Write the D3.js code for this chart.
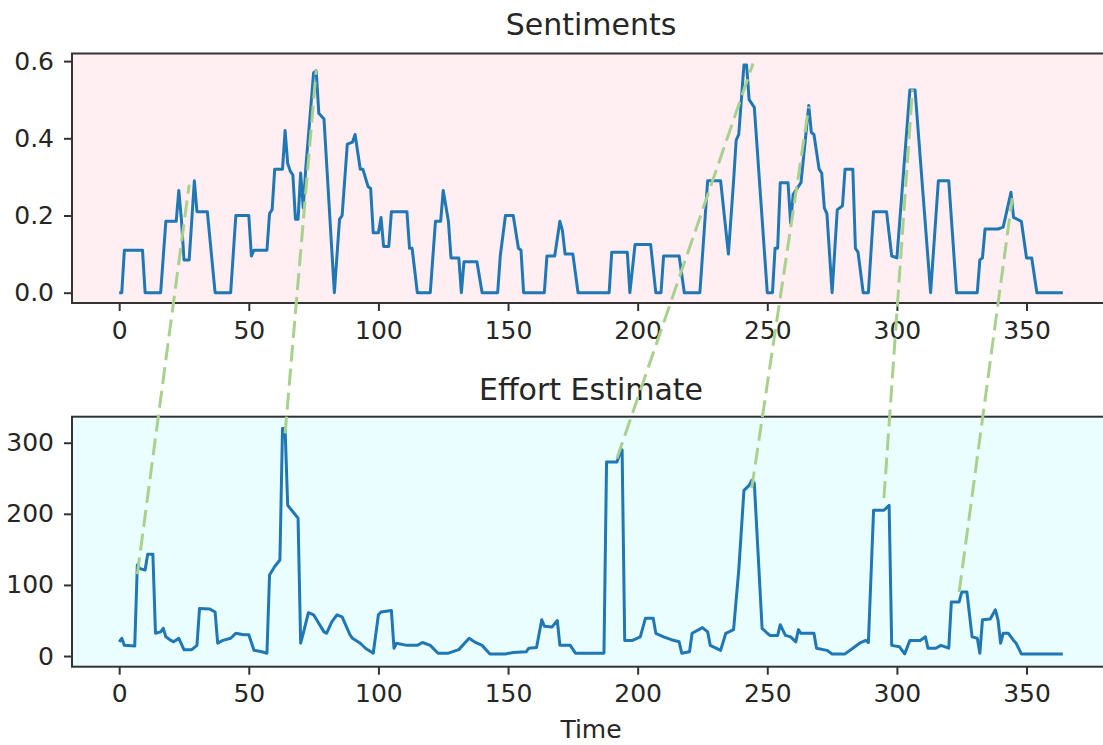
<!DOCTYPE html>
<html>
<head>
<meta charset="utf-8">
<script src="https://cdn.jsdelivr.net/npm/d3@7"></script>
<style>
  html, body { margin: 0; padding: 0; background: #ffffff; }
  svg { display: block; }
  text { font-family: "DejaVu Sans", sans-serif; fill: #262626; }
</style>
</head>
<body>
<svg id="chart" width="1103" height="745"></svg>
<script>
// ---- Sentiment series (day, score) ----
const sentimentDays = [0,1,2,9,10,16,18,22,23,24,25,27,29,30,34,37,43,45,50,51,52,57,58,59,60,63,64,65,66,67,68,69,70,71,72,75,76,77,79,83,85,86,88,90,91,93,94,96,97,98,100,101,102,104,105,111,112,113,115,120,122,124,125,127,128,131,132,133,138,140,146,147,149,152,154,155,156,164,165,168,170,171,172,175,177,189,190,196,197,199,205,207,209,210,216,218,224,227,232,235,237,238,239,241,242,243,245,250,252,253,254,255,258,259,260,263,266,267,268,270,271,272,273,275,277,279,280,283,284,285,287,289,291,296,298,300,305,307,313,316,320,323,331,332,333,334,339,341,344,345,348,350,352,354,364];
const sentimentValues = [0,0,0.11,0.11,0,0,0.185,0.185,0.265,0.19,0.085,0.085,0.29,0.21,0.21,0,0,0.2,0.2,0.095,0.11,0.11,0.205,0.215,0.32,0.32,0.42,0.335,0.315,0.305,0.19,0.19,0.31,0.22,0.325,0.57,0.575,0.465,0.45,0,0.19,0.2,0.385,0.39,0.41,0.32,0.32,0.275,0.27,0.155,0.155,0.195,0.12,0.12,0.21,0.21,0.115,0.115,0,0,0.185,0.185,0.265,0.185,0.09,0.09,0,0.08,0.08,0,0,0.095,0.2,0.2,0.115,0.11,0,0,0.095,0.095,0.185,0.16,0.1,0.1,0,0,0.105,0.105,0,0.125,0.125,0,0,0.095,0.095,0,0,0.29,0.29,0.1,0.29,0.395,0.41,0.59,0.59,0.5,0.48,0,0,0.115,0.115,0.285,0.285,0.18,0.255,0.285,0.485,0.415,0.41,0.32,0.31,0.22,0.205,0,0.215,0.225,0.32,0.32,0.115,0.105,0,0,0.21,0.21,0.095,0.09,0.525,0.525,0,0.29,0.29,0,0,0.085,0.09,0.165,0.165,0.17,0.26,0.195,0.185,0.09,0.09,0,0];

// ---- Effort estimate series (day, effort) ----
const effortDays = [0,1,2,6,7,8,10,11,13,14,16,17,18,20,21,23,25,28,30,31,35,37,38,40,43,45,48,50,52,55,57,58,59,60,62,63,64,65,67,69,70,71,73,75,79,80,82,84,86,89,90,93,95,98,100,101,105,106,107,111,115,117,120,123,127,131,135,137,140,143,149,152,157,158,161,163,164,167,169,170,174,176,187,188,192,193,194,195,198,201,203,206,207,210,213,216,217,220,221,225,227,228,232,234,237,239,241,243,244,245,248,250,251,254,255,257,259,261,262,263,268,269,273,275,280,283,286,288,289,291,295,297,298,301,303,305,309,311,312,315,317,320,321,324,325,327,329,331,332,333,336,338,339,340,341,343,345,346,348,364];
const effortValues = [20,25,15,14,128,123,121,143,143,32,34,39,27,22,20,25,9,9,15,67,66,62,18,22,25,32,30,30,8,6,4,114,120,126,135,320,320,212,203,194,18,32,61,58,34,32,48,58,55,30,25,18,11,4,58,62,64,11,18,15,15,19,15,4,4,9,25,20,15,3,3,5,6,11,12,51,42,41,50,15,15,4,4,273,273,283,290,22,22,27,53,53,32,27,23,20,4,6,32,40,34,15,8,32,37,121,233,240,247,243,39,32,29,29,44,29,27,20,37,32,32,11,8,3,3,11,19,22,19,205,205,212,15,13,3,22,22,27,11,11,15,11,76,76,90,90,27,25,4,51,52,65,51,18,32,32,22,18,3,3];

// ---- Links between matching peaks: effort point -> sentiment point ----
const linkEffortDays = [7, 64, 192, 244, 295, 324];
const linkEffortValues = [115, 313, 278, 236, 222, 90];
const linkSentimentDays = [27, 76, 244.5, 266, 306, 344.5];
const linkSentimentValues = [0.28, 0.577, 0.594, 0.482, 0.527, 0.245];

// ---- Tick labels ----
const xTicks = [0, 50, 100, 150, 200, 250, 300, 350];
const sentimentTicks = [0, 0.2, 0.4, 0.6];
const effortTicks = [0, 100, 200, 300];

const svg = d3.select("#chart");
const W = 1103, H = 745;
svg.append("rect").attr("width", W).attr("height", H).attr("fill", "#ffffff");

// Axes boxes (right edge runs past the canvas)
const left = 72, right = 1110;
const topPanel = { top: 53.5, bottom: 303 };
const botPanel = { top: 416.7, bottom: 666.7 };

const x = d3.scaleLinear().domain([-18.2, 382.2]).range([left, right]);
const ySent = d3.scaleLinear().domain([-0.0267, 0.6197]).range([topPanel.bottom, topPanel.top]);
const yEff = d3.scaleLinear().domain([-15, 336.6]).range([botPanel.bottom, botPanel.top]);

const lineColor = "#1f77b4";
const spineColor = "#333333";
const tickFont = 25;

function panel(p, y, bg, days, values, yTicks, yFmt, title, titleBaseline) {
  const g = svg.append("g");
  g.append("rect")
    .attr("x", left).attr("y", p.top)
    .attr("width", right - left).attr("height", p.bottom - p.top)
    .attr("fill", bg);

  const clipId = "clip" + Math.round(p.top);
  svg.append("clipPath").attr("id", clipId)
    .append("rect").attr("x", left).attr("y", p.top)
    .attr("width", right - left).attr("height", p.bottom - p.top);

  const pts = days.map((d, i) => [d, values[i]]);
  g.append("path")
    .datum(pts)
    .attr("clip-path", `url(#${clipId})`)
    .attr("fill", "none")
    .attr("stroke", lineColor)
    .attr("stroke-width", 3)
    .attr("stroke-linejoin", "round")
    .attr("d", d3.line().x(d => x(d[0])).y(d => y(d[1])));

  // x axis
  const xAxis = g.append("g")
    .attr("transform", `translate(0,${p.bottom})`)
    .call(d3.axisBottom(x).tickValues(xTicks).tickSize(8).tickPadding(10).tickFormat(d3.format("d")));
  // y axis
  const yAxis = g.append("g")
    .attr("transform", `translate(${left},0)`)
    .call(d3.axisLeft(y).tickValues(yTicks).tickSize(8).tickPadding(10).tickFormat(yFmt));

  [xAxis, yAxis].forEach(a => {
    a.select(".domain").remove();
    a.selectAll(".tick line").attr("stroke", spineColor).attr("stroke-width", 2);
    a.selectAll(".tick text")
      .attr("fill", "#262626")
      .style("font-family", '"DejaVu Sans", sans-serif')
      .style("font-size", tickFont + "px");
  });

  // spines
  g.append("rect")
    .attr("x", left).attr("y", p.top)
    .attr("width", right - left).attr("height", p.bottom - p.top)
    .attr("fill", "none")
    .attr("stroke", spineColor)
    .attr("stroke-width", 2);

  g.append("text")
    .attr("x", (left + right) / 2)
    .attr("y", titleBaseline)
    .attr("text-anchor", "middle")
    .style("font-size", "30px")
    .text(title);
}

panel(topPanel, ySent, "#ffeef2", sentimentDays, sentimentValues,
      sentimentTicks, d3.format(".1f"), "Sentiments", 35);
panel(botPanel, yEff, "#ebfeff", effortDays, effortValues,
      effortTicks, d3.format("d"), "Effort Estimate", 400);

svg.append("text")
  .attr("x", 591)
  .attr("y", 738)
  .attr("text-anchor", "middle")
  .style("font-size", "25px")
  .text("Time");

// dashed connectors drawn over both panels
const links = linkEffortDays.map((d, i) => ({
  x1: x(d), y1: yEff(linkEffortValues[i]),
  x2: x(linkSentimentDays[i]), y2: ySent(linkSentimentValues[i])
}));
svg.append("g").selectAll("line")
  .data(links)
  .join("line")
  .attr("x1", d => d.x1).attr("y1", d => d.y1)
  .attr("x2", d => d.x2).attr("y2", d => d.y2)
  .attr("stroke", "#a9d18e")
  .attr("stroke-width", 3)
  .attr("stroke-dasharray", "17,7");
</script>
</body>
</html>
